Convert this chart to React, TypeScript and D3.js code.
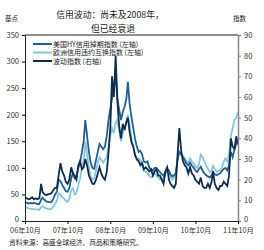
import React, { useEffect, useRef } from 'react'
import * as d3 from 'd3'

// semi-monthly readings, 2006-10-01 .. 2011-10-01
const hyValues = [
  36, 34, 33, 34, 33, 34, 33, 32, 32, 40, 44, 40, 37, 36, 35, 36, 42, 50, 55, 78, 75, 68, 62, 56,
  55, 62, 80, 90, 80, 82, 100, 110, 130, 150, 190, 160, 130, 110, 100, 98, 115, 130, 145, 140, 135, 140, 160, 190,
  210, 230, 250, 275, 230, 210, 190, 205, 215, 230, 262, 220, 195, 175, 155, 140, 130, 132, 125, 112, 110, 112, 100, 98,
  95, 100, 100, 96, 92, 88, 85, 92, 98, 95, 88, 84, 86, 90, 115, 130, 125, 120, 115, 108, 105, 110, 104, 100,
  95, 92, 98, 102, 95, 90, 86, 84, 82, 85, 92, 88, 86, 88, 90, 94, 98, 100, 95, 105, 130, 120, 135, 145,
  150
]

const euValues = [
  26, 25, 24, 23, 23, 22, 22, 22, 21, 26, 28, 25, 24, 23, 22, 23, 27, 32, 38, 52, 50, 45, 42, 38,
  36, 42, 58, 62, 50, 52, 68, 80, 100, 115, 150, 125, 100, 85, 78, 80, 95, 110, 120, 115, 110, 115, 120, 140,
  160, 175, 165, 185, 190, 170, 150, 165, 175, 185, 200, 180, 155, 140, 125, 115, 118, 115, 108, 95, 92, 90, 85, 82,
  84, 90, 86, 82, 78, 80, 80, 88, 98, 92, 82, 78, 82, 92, 118, 130, 128, 122, 118, 112, 110, 118, 112, 108,
  102, 100, 108, 125, 120, 112, 104, 98, 92, 94, 104, 98, 92, 94, 96, 100, 112, 118, 112, 125, 160, 175, 190, 195,
  205
]

const vixValues = [
  11.5, 11, 10.5, 10.8, 11.5, 10.5, 11, 10.5, 11, 18, 14, 13, 12.5, 13, 13, 13.5, 15, 16, 16, 22, 28, 24, 22, 19,
  18, 20, 26, 23, 22, 20, 27, 29, 25, 26, 30, 27, 22, 20, 18, 18, 20, 23, 26, 23, 21, 20, 24, 33,
  45, 70, 60, 80, 58, 46, 40, 47, 44, 48, 50, 43, 38, 36, 32, 30, 29, 27, 28, 25, 26, 25, 24, 25,
  22, 24, 25, 22, 22, 20, 18, 24, 26, 20, 18, 17, 16, 18, 32, 45, 34, 29, 27, 26, 23, 26, 23, 22,
  20, 19, 18, 21, 17, 16, 16, 18, 16, 19, 24, 18, 16, 15, 17, 17, 19, 18, 17, 22, 40, 36, 35, 41,
  37
]

const leftTicks = [0, 50, 100, 150, 200, 250, 300, 350]
const rightTicks = [0, 10, 20, 30, 40, 50, 60, 70, 80, 90]
const xTickLabels = ['06年10月', '07年10月', '08年10月', '09年10月', '10年10月', '11年10月']
const legendLabels = ['美国HY信用掉期指数 (左轴)', '欧洲信用违约互换指数 (左轴)', '波动指数 (右轴)']
const colors = ['#22608f', '#86c5de', '#0e2d4d']

const FONT = '"Noto Sans CJK SC", "DejaVu Sans", sans-serif'

const App = () => {
  const ref = useRef<SVGSVGElement>(null)

  useEffect(() => {
    const svg = d3.select(ref.current)
    svg.selectAll('*').remove()

    const left = 25, right = 238, top = 35, bottom = 221

    const dates = hyValues.map((_, i) => new Date(2006, 9 + Math.floor(i / 2), i % 2 ? 16 : 1))
    const x = d3.scaleTime()
      .domain([new Date(2006, 9, 1), new Date(2011, 9, 1)])
      .range([left, right])
    const yL = d3.scaleLinear().domain([0, 350]).range([bottom, top])
    const yR = d3.scaleLinear().domain([0, 90]).range([bottom, top])

    // title and unit labels
    svg.append('text').attr('x', 110).attr('y', 18).attr('text-anchor', 'middle')
      .attr('font-size', 8.8).attr('fill', '#222').text('信用波动：尚未及2008年，')
    svg.append('text').attr('x', 113).attr('y', 32).attr('text-anchor', 'middle')
      .attr('font-size', 8.8).attr('fill', '#222').text('但已经衰退')
    svg.append('text').attr('x', 5).attr('y', 21).attr('font-size', 6.5).attr('fill', '#222').text('基点')
    svg.append('text').attr('x', 233).attr('y', 21).attr('font-size', 6.5).attr('fill', '#222').text('指数')

    // lines
    const series = [
      { values: euValues, scale: yL, color: colors[1] },
      { values: hyValues, scale: yL, color: colors[0] },
      { values: vixValues, scale: yR, color: colors[2] }
    ]
    series.forEach(s => {
      svg.append('path')
        .datum(s.values)
        .attr('fill', 'none')
        .attr('stroke', s.color)
        .attr('stroke-width', 1.8)
        .attr('stroke-linejoin', 'miter')
        .attr('d', d3.line<number>()
          .x((d, i) => x(dates[i]))
          .y(d => s.scale(d))
        )
    })

    // top border
    svg.append('line').attr('x1', left).attr('x2', right).attr('y1', top).attr('y2', top)
      .attr('stroke', '#222').attr('stroke-width', 1)

    // left axis
    const gl = svg.append('g').attr('transform', `translate(${left},0)`)
      .call(d3.axisLeft(yL).tickValues(leftTicks).tickSize(3).tickPadding(3))
    gl.select('.domain').attr('stroke', '#222')
    gl.selectAll('text').attr('font-size', 7.5).attr('fill', '#333').attr('font-family', FONT)
      .attr('dy', (d: any) => (d === 0 ? '0.1em' : '0.32em'))

    // right axis
    const gr = svg.append('g').attr('transform', `translate(${right},0)`)
      .call(d3.axisRight(yR).tickValues(rightTicks).tickSize(3).tickPadding(3))
    gr.selectAll('.domain, line').attr('stroke', '#888')
    gr.select('.domain').attr('stroke-width', 1.5)
    gr.selectAll('text').attr('font-size', 7.5).attr('fill', '#333').attr('font-family', FONT)
      .attr('dy', (d: any) => (d === 0 ? '0.1em' : '0.32em'))

    // bottom axis
    const xTicks = xTickLabels.map((_, i) => new Date(2006 + i, 9, 1))
    const gb = svg.append('g').attr('transform', `translate(0,${bottom})`)
      .call(d3.axisBottom(x).tickValues(xTicks).tickSize(3).tickPadding(4)
        .tickFormat((d, i) => xTickLabels[i]))
    gb.select('.domain').attr('stroke', '#222')
    gb.selectAll('text').attr('font-size', 7.3).attr('fill', '#333').attr('font-family', FONT)

    // legend
    legendLabels.forEach((label, i) => {
      const ly = 44 + i * 8.5
      svg.append('line').attr('x1', 33).attr('x2', 52).attr('y1', ly).attr('y2', ly)
        .attr('stroke', colors[i]).attr('stroke-width', 2)
      svg.append('text').attr('x', 53).attr('y', ly + 2.5).attr('font-size', 7)
        .attr('fill', '#222').text(label)
    })

    // source
    svg.append('text').attr('x', 9).attr('y', 244.5).attr('font-size', 6.7).attr('fill', '#222')
      .text('资料来源：高盛全球经济、商品和策略研究。')
  }, [])

  return (
    <svg ref={ref} width={264} height={250} fontFamily={FONT}
      style={{ position: 'absolute', left: 0, top: 0, background: '#fff' }} />
  )
}

export default App
